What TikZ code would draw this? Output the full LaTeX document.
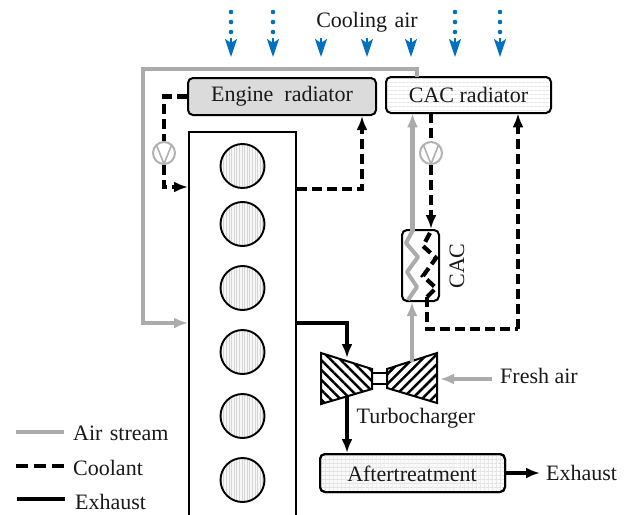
\documentclass[tikz,border=0pt]{standalone}
\usepackage{fontspec}
\setmainfont{Liberation Serif}
\usetikzlibrary{arrows.meta, patterns.meta}
\definecolor{airgray}{HTML}{ABABAB}
\definecolor{coolblue}{HTML}{0070C0}

\begin{document}
\begin{tikzpicture}[
    x=1pt, y=-1pt,
    >={Latex[length=14pt,width=11pt]},
    every node/.style={font=\fontsize{22}{26}\selectfont, text=black!90},
    radiator/.style={draw, rounded corners=5pt, line width=2pt, inner sep=0pt, align=center},
    cylinder/.style={circle, draw, line width=1.9pt, minimum size=44pt, inner sep=0pt,
                     preaction={fill=gray!6},
                     pattern={Lines[angle=90,distance=2.6pt,line width=.4pt]}, pattern color=gray!32},
    pump/.style={circle, draw=gray!60, line width=2pt, fill=white, minimum size=22pt, inner sep=0pt,
                 path picture={\draw[gray!60, line width=1.6pt]
                     (path picture bounding box.north west) ++(3pt,-2pt) -- (path picture bounding box.south)
                     -- ++(8pt,20pt);}},
    label/.style={inner sep=0pt, anchor=west},
    air/.style={->, line width=4.6pt, airgray},
    cool/.style={line width=4.6pt, dash pattern=on 10pt off 5pt},
    coolend/.style={->, cool},
    exhaust/.style={->, line width=4pt},
    fanhead/.style={-{Stealth[length=18pt,width=12pt,inset=4pt]}, line width=2pt, coolblue},
    fandots/.style={line width=4.6pt, coolblue, dash pattern=on 0pt off 10pt, line cap=round},
]
% engine block runs off the bottom edge
\useasboundingbox (0,0) rectangle (637,514);
\node[draw, line width=2pt, minimum width=107pt, minimum height=400pt, inner sep=0pt] (engine) at (242.5,332) {};
\foreach \name/\ypos in {cylA/166, cylB/224, cylC/288, cylD/352, cylE/416, cylF/480}
    \node[cylinder] (\name) at (242.5,\ypos) {};

\node[radiator, fill=gray!28, minimum width=188pt, minimum height=37pt] (engrad) at (282,96.5) {Engine\ \ radiator};
\node[radiator, minimum width=165pt, minimum height=36pt,
      preaction={fill=white},
      pattern={Lines[angle=0,distance=4pt,line width=.6pt]}, pattern color=gray!30] (cacrad) at (468.5,95) {};
\node[inner sep=0pt] (cacradtext) at (468.5,95) {CAC radiator};
\node[radiator, fill=white, minimum width=37pt, minimum height=71pt] (cac) at (420.5,265.5) {};
\node[rotate=90, inner sep=0pt] (cactext) at (457,266) {CAC};
\node[radiator, minimum width=185pt, minimum height=38pt,
      preaction={fill=gray!4},
      pattern={Lines[angle=0,distance=4pt,line width=.4pt]}, pattern color=gray!32] (after) at (412.5,473) {};
\node[radiator, draw=none, rounded corners=0pt,
      pattern={Lines[angle=90,distance=4pt,line width=.4pt]}, pattern color=gray!32,
      minimum width=178pt, minimum height=34pt] (aftergrid) at (412.5,473) {};
\node[radiator, minimum width=185pt, minimum height=38pt] (afterbox) at (412.5,473) {};
\node[inner sep=0pt] (aftertext) at (412,474) {Aftertreatment};

\node[inner sep=0pt] (coolingair) at (367,22) {Cooling\,\,air};
\node[label] (freshair) at (500,376) {Fresh air};
\node[inner sep=0pt] (turbotext) at (416,418) {Turbocharger};
\node[label] (exhausttext) at (546,473) {Exhaust};

% turbine and compressor
\draw[line width=2pt, fill=white] (372,373) rectangle (387,384);
\draw[line width=2pt, preaction={fill=white},
      pattern={Lines[angle=-45,distance=7pt,line width=2.5pt]}]
    (321,353) -- (372,369) -- (372,389) -- (321,404) -- cycle;
\draw[line width=2pt, preaction={fill=white},
      pattern={Lines[angle=45,distance=7pt,line width=2.5pt]}]
    (437,353) -- (387,369) -- (387,388) -- (437,403) -- cycle;

% cooling air
\foreach \xpos [count=\i] in {231,273,321,367,411,455,500} {
    \coordinate (headS\i) at (\xpos,38);
    \coordinate (headE\i) at (\xpos,57);
    \draw[fanhead] (headS\i) -- (headE\i);
}
\foreach \xpos [count=\i] in {231,273,455,500} {
    \coordinate (dotS\i) at (\xpos,12);
    \coordinate (dotE\i) at (\xpos,33);
    \draw[fandots] (dotS\i) -- (dotE\i);
}

% air path
\coordinate (airtop) at (417,77);
\coordinate (airleft) at (143,69);
\coordinate (enginein) at (engine.west |- 0,323);
\draw[air] (airtop) |- (airleft) |- (enginein);
\coordinate (compout) at (412,362);
\draw[air] (compout) -- (cac.south -| compout);
\draw[line width=4pt, airgray, line join=round] (408,300) -- (417,287) -- (407,272) -- (418,257) -- (406,243) -- (413,230);
\coordinate (airup) at (412.5,232);
\draw[air] (airup) -- (cacrad.south -| airup);
\coordinate (freshtail) at (492,379);
\coordinate (freshtip) at (440,379);
\draw[air] (freshtail) -- (freshtip);

% coolant, engine loop
\node[pump] (pumpE) at (164,153) {};
\coordinate (engineC) at (engine.west |- 0,187);
\coordinate (engineO) at (engine.east |- 0,189);
\draw[cool] (engrad.west) -| (pumpE.north);
\draw[coolend] (pumpE.south) |- (engineC);
\coordinate (radin) at (362,150);
\draw[coolend] (engineO) -| (engrad.south -| radin);

% coolant, CAC loop
\node[pump] (pumpC) at (431,153) {};
\draw[cool] (cacrad.south -| pumpC) -- (pumpC.north);
\draw[coolend] (pumpC.south) -- (cac.north -| pumpC);
\draw[line width=4.2pt, dash pattern=on 10pt off 5pt] (430,233) -- (423,246) -- (436,258) -- (423,276) -- (436,288) -- (427,297);
\coordinate (cacout) at (427,297);
\coordinate (cacright) at (518,329);
\draw[cool] (cacout) |- (cacright);
\draw[coolend] (cacright) -- (cacrad.south -| cacright);

% exhaust path
\coordinate (engineX) at (engine.east |- 0,323);
\coordinate (turbinein) at (347,358);
\coordinate (turbineout) at (347,397);
\draw[exhaust] (engineX) -| (turbinein);
\draw[exhaust] (turbineout) -- (afterbox.north -| turbineout);
\coordinate (exittip) at (540,473);
\draw[exhaust] (afterbox.east) -- (exittip);

% legend
\node[label] (legair) at (73,433) {Air\,\,stream};
\node[label] (legcool) at (73,468) {Coolant};
\node[label] (legexh) at (75,502) {Exhaust};
\coordinate (legairS) at (16,432);
\coordinate (legcoolS) at (16,466);
\coordinate (legexhS) at (17,499);
\coordinate (legairE) at (64,432);
\coordinate (legcoolE) at (64,466);
\coordinate (legexhE) at (65,499);
\draw[line width=4.6pt, airgray] (legairS) -- (legairE);
\draw[line width=4.6pt, dash pattern=on 12pt off 6pt] (legcoolS) -- (legcoolE);
\draw[line width=4pt] (legexhS) -- (legexhE);
\end{tikzpicture}
\end{document}
